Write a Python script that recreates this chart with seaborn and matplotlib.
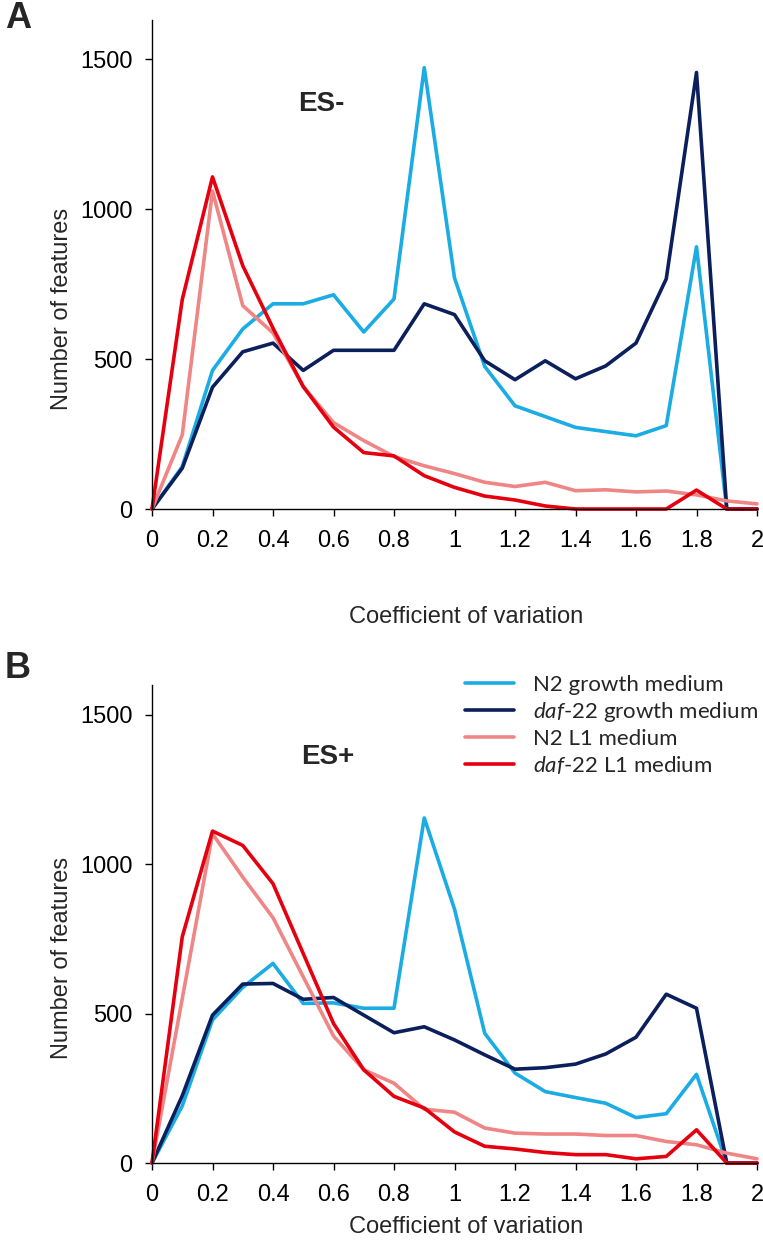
import numpy as np
import pandas as pd
import matplotlib
matplotlib.use("Agg")
import matplotlib.pyplot as plt
from matplotlib.lines import Line2D
import seaborn as sns

# ---------------- data ----------------
cv = [0.0, 0.1, 0.2, 0.3, 0.4, 0.5, 0.6, 0.7, 0.8, 0.9, 1.0,
      1.1, 1.2, 1.3, 1.4, 1.5, 1.6, 1.7, 1.8, 1.9, 2.0]

series_names = ["N2 growth medium", "daf-22 growth medium",
                "N2 L1 medium", "daf-22 L1 medium"]

# Panel A (ES-)
a_n2_growth = [0, 141, 462, 600, 684, 684, 714, 590, 700, 1471, 770,
               475, 344, 308, 272, 258, 244, 278, 874, 0, 0]
a_daf_growth = [0, 136, 406, 524, 553, 462, 529, 529, 529, 684, 648,
                494, 431, 494, 434, 477, 553, 767, 1455, 0, 0]
a_n2_l1 = [0, 247, 1060, 678, 587, 408, 288, 228, 175, 144, 118,
           89, 75, 89, 61, 64, 57, 60, 47, 27, 17]
a_daf_l1 = [0, 698, 1107, 811, 603, 408, 273, 188, 177, 111, 72,
            43, 30, 10, 0, 0, 0, 0, 63, 0, 0]

# Panel B (ES+)
b_n2_growth = [0, 191, 479, 588, 668, 534, 536, 518, 518, 1155, 850,
               434, 301, 239, 219, 200, 152, 165, 297, 0, 0]
b_daf_growth = [0, 225, 495, 599, 601, 548, 554, 495, 436, 456, 412,
                362, 314, 319, 331, 365, 421, 565, 518, 0, 0]
b_n2_l1 = [0, 550, 1102, 957, 821, 623, 425, 312, 267, 180, 170,
           117, 100, 97, 97, 92, 92, 72, 61, 33, 14]
b_daf_l1 = [0, 757, 1111, 1063, 935, 701, 467, 312, 223, 184, 104,
            56, 47, 35, 28, 28, 14, 22, 111, 0, 0]

x_ticks = [0, 0.2, 0.4, 0.6, 0.8, 1.0, 1.2, 1.4, 1.6, 1.8, 2.0]
x_tick_labels = ["0", "0.2", "0.4", "0.6", "0.8", "1", "1.2", "1.4", "1.6", "1.8", "2"]
y_ticks = [0, 500, 1000, 1500]
y_tick_labels = ["0", "500", "1000", "1500"]

colors = ["#1AACE3", "#0B1F5C", "#F08585", "#E5000F"]
palette = dict(zip(series_names, colors))


def long_df(values):
    frames = []
    for name, vals in zip(series_names, values):
        frames.append(pd.DataFrame({"cv": cv, "count": vals, "series": name}))
    return pd.concat(frames, ignore_index=True)


df_a = long_df([a_n2_growth, a_daf_growth, a_n2_l1, a_daf_l1])
df_b = long_df([b_n2_growth, b_daf_growth, b_n2_l1, b_daf_l1])

# ---------------- style ----------------
sns.set_style("ticks")
plt.rcParams["font.family"] = ["Liberation Sans", "DejaVu Sans"]
plt.rcParams["mathtext.fontset"] = "custom"
plt.rcParams["mathtext.it"] = "Lato:italic"
plt.rcParams["mathtext.rm"] = "Lato"

W, H = 763, 1251
fig = plt.figure(figsize=(W / 100, H / 100), dpi=100)


def px_axes(left, top, right, bottom):
    return fig.add_axes([left / W, 1 - bottom / H, (right - left) / W, (bottom - top) / H])


ax_a = px_axes(152, 20, 757, 509)
ax_b = px_axes(152, 685, 757, 1163)


def draw_panel(ax, df, ymax, tag, tag_xy, letter, letter_y, ylabel_y, xlabel_y):
    sns.lineplot(data=df, x="cv", y="count", hue="series", hue_order=series_names,
                 palette=palette, linewidth=2.6, ax=ax, legend=False,
                 estimator=None, sort=False, clip_on=False)
    ax.set_xlim(0, 2.0)
    ax.set_ylim(0, ymax)
    ax.set_xticks(x_ticks)
    ax.set_xticklabels(x_tick_labels)
    ax.set_yticks(y_ticks)
    ax.set_yticklabels(y_tick_labels)
    ax.tick_params(axis="both", direction="out", length=5, width=1.0,
                   labelsize=17, color="black", labelcolor="black")
    ax.tick_params(axis="x", pad=10)
    ax.tick_params(axis="y", pad=9)
    for s in ["top", "right"]:
        ax.spines[s].set_visible(False)
    for s in ["left", "bottom"]:
        ax.spines[s].set_linewidth(1.0)
        ax.spines[s].set_color("black")
    ax.set_xlabel("Coefficient of variation", fontsize=17)
    ax.xaxis.set_label_coords(0.52, xlabel_y)
    ax.set_ylabel("Number of features", fontsize=17)
    ax.yaxis.set_label_coords(-0.13, ylabel_y)
    ax.text(tag_xy[0], tag_xy[1], tag, fontsize=20, fontweight="bold",
            ha="center", va="center")
    fig.text(5 / W, 1 - letter_y / H, letter, fontsize=26, fontweight="bold",
             ha="left", va="center")


draw_panel(ax_a, df_a, 1630, "ES-", (0.56, 1350), "A", 18, 0.41, -0.198)
draw_panel(ax_b, df_b, 1600, "ES+", (0.58, 1360), "B", 668, 0.43, -0.11)

# legend in panel B
handles = [Line2D([0], [0], color=c, linewidth=2.6) for c in colors]
labels = ["N2 growth medium",
          r"$\mathit{daf}$-$\mathit{22}$ growth medium",
          "N2 L1 medium",
          r"$\mathit{daf}$-$\mathit{22}$ L1 medium"]
leg = ax_b.legend(handles, labels, loc="upper left",
                  bbox_to_anchor=(465 / W, 1 - 675 / H), bbox_transform=fig.transFigure,
                  frameon=False, borderpad=0, borderaxespad=0, handlelength=2.2,
                  handletextpad=0.85, labelspacing=0.22,
                  prop={"family": ["Lato", "DejaVu Sans"], "size": 16})

fig.savefig("out.png", dpi=100)
